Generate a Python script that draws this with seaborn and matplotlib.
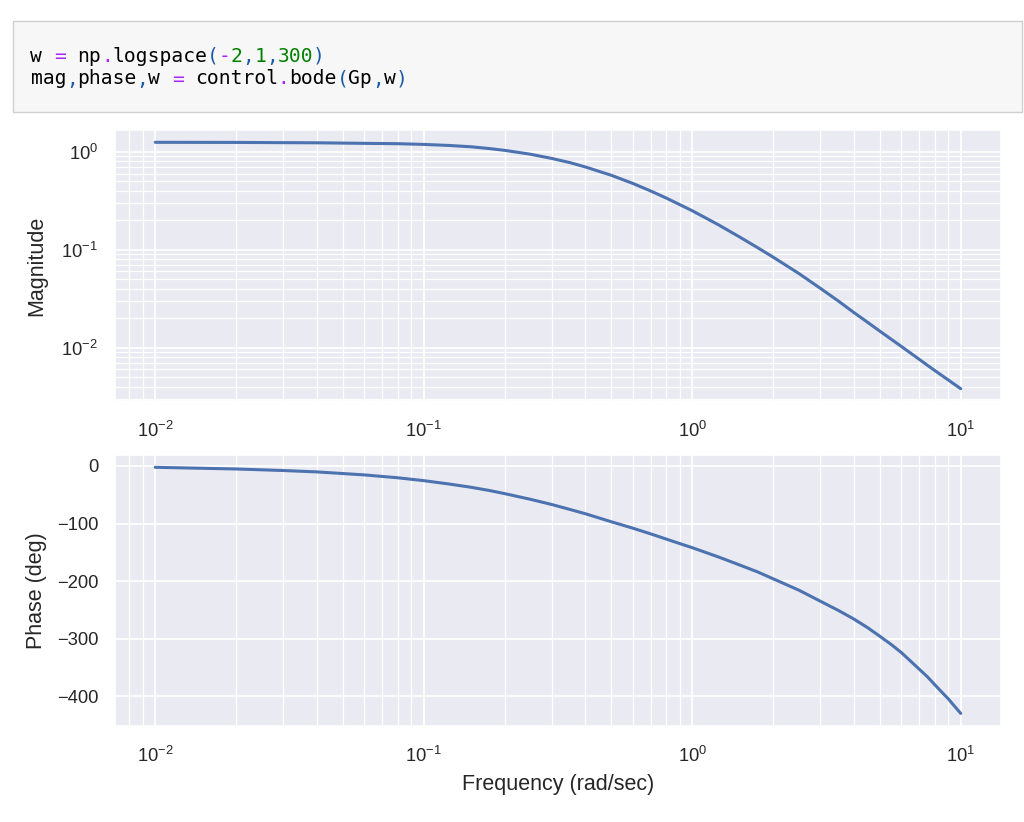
# Diagrama de Bode (magnitud y fase) de Gp, con la celda de código arriba

import numpy as np
import pandas as pd
import matplotlib
matplotlib.use('Agg')
import matplotlib.pyplot as plt
from matplotlib.patches import Rectangle
import seaborn as sns

# ----------------------- Datos -----------------------

frecuencia = [0.01, 0.02, 0.03, 0.04, 0.06, 0.08, 0.1, 0.125, 0.15, 0.175, 0.2,
              0.25, 0.3, 0.35, 0.4, 0.5, 0.6, 0.7, 0.8, 0.9, 1.0, 1.25, 1.5,
              1.75, 2.0, 2.5, 3.0, 3.5, 4.0, 4.5, 5.0, 5.5, 6.0, 6.5, 7.0, 7.5,
              8.0, 8.5, 9.0, 9.5, 10.0]

magnitud = [1.25, 1.247, 1.24, 1.236, 1.22, 1.21, 1.19, 1.16, 1.125, 1.08, 1.035,
            0.944, 0.855, 0.776, 0.70, 0.575, 0.476, 0.398, 0.337, 0.288, 0.25,
            0.18, 0.135, 0.105, 0.084, 0.0569, 0.0403, 0.0299, 0.0228, 0.0181,
            0.0147, 0.0122, 0.0103, 0.00879, 0.00759, 0.00662, 0.00583, 0.00519,
            0.00465, 0.00419, 0.0038]

fase = [-2.3, -5.2, -7.9, -10.3, -15.5, -20.5, -25.5, -31.5, -37, -42.5, -48,
        -58, -67, -75.5, -83, -97, -108, -118, -127, -135, -142, -158, -172,
        -184, -196, -216, -235, -251, -266, -281, -296, -310, -324, -339, -353,
        -366, -380, -393, -405, -418, -430]

# Texto de la celda de código (tokens y tipo para colorear)
linea_1 = [('w', 'var'), (' ', 'var'), ('=', 'op'), (' ', 'var'), ('np', 'var'),
           ('.', 'op'), ('logspace', 'var'), ('(', 'par'), ('-', 'op'), ('2', 'num'),
           (',', 'par'), ('1', 'num'), (',', 'par'), ('300', 'num'), (')', 'par')]
linea_2 = [('mag', 'var'), (',', 'par'), ('phase', 'var'), (',', 'par'), ('w', 'var'),
           (' ', 'var'), ('=', 'op'), (' ', 'var'), ('control', 'var'), ('.', 'op'),
           ('bode', 'var'), ('(', 'par'), ('Gp', 'var'), (',', 'par'), ('w', 'var'),
           (')', 'par')]

colores_codigo = {'var': '#000000', 'op': '#aa22ff', 'num': '#008000', 'par': '#1a5aa6'}

df = pd.DataFrame({'w': frecuencia, 'mag': magnitud, 'phase': fase})

# ----------------------- Estilo -----------------------

sns.set_theme(style='darkgrid')
plt.rcParams['font.family'] = ['Liberation Sans', 'DejaVu Sans']
plt.rcParams['mathtext.fontset'] = 'dejavusans'

W, H = 1024, 822
fig = plt.figure(figsize=(W / 100, H / 100), dpi=100)
fig.patch.set_facecolor('white')

# ----------------------- Celda de código -----------------------

fig.patches.append(Rectangle((13 / W, 1 - 112 / H), (1022 - 13) / W, 91 / H,
                             transform=fig.transFigure, facecolor='#f7f7f7',
                             edgecolor='#d0d0d0', lw=1))

ancho_car = 11.77  # px por carácter (monoespaciada)
for linea, base in [(linea_1, 61.7), (linea_2, 84.5)]:
    col = 0
    for token, tipo in linea:
        fig.text((30.5 + col * ancho_car) / W, 1 - base / H, token,
                 family='DejaVu Sans Mono', fontsize=14.1, ha='left',
                 va='baseline', color=colores_codigo[tipo])
        col += len(token)

# ----------------------- Gráficas -----------------------

ax1 = fig.add_axes([115 / W, 1 - 401 / H, 886 / W, 271 / H])
ax2 = fig.add_axes([115 / W, 1 - 725.7 / H, 886 / W, 270.7 / H])

for ax in (ax1, ax2):
    ax.set_xscale('log')

ax1.set_yscale('log')

sns.lineplot(data=df, x='w', y='mag', ax=ax1, color='#4c72b0', lw=2.2)
sns.lineplot(data=df, x='w', y='phase', ax=ax2, color='#4c72b0', lw=2.2)

for ax in (ax1, ax2):
    ax.grid(which='major', color='white', lw=1.3)
    ax.grid(which='minor', color='white', lw=0.9)
    ax.tick_params(axis='both', which='major', labelsize=13.2, colors='#262626')
    ax.tick_params(axis='x', which='major', pad=8.5)
    ax.tick_params(axis='y', which='major', pad=6.2)
    ax.set_xlabel('')

ax1.set_ylabel('Magnitude', fontsize=15.5, color='#262626')
ax2.set_ylabel('Phase (deg)', fontsize=15.5, color='#262626')
ax2.set_xlabel('Frequency (rad/sec)', fontsize=15.5, color='#262626', labelpad=5.5)
ax2.set_yticks([0, -100, -200, -300, -400])

for ax in (ax1, ax2):
    ax.yaxis.set_label_coords((47 - 115) / 886, 0.5)

fig.savefig('out.png', dpi=100, facecolor='white')
